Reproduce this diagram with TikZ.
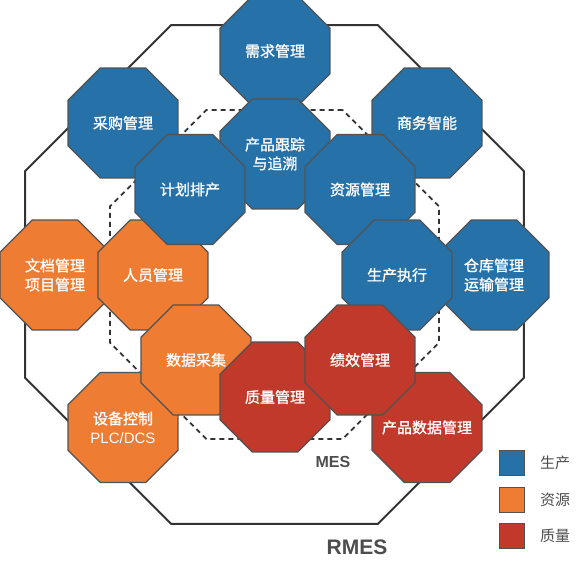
\documentclass[tikz,border=0pt]{standalone}
\usepackage{fontspec}
\setmainfont{Noto Sans CJK SC}
\newfontfamily\modulefont[FakeBold=1.2]{Noto Sans CJK SC}
\newfontfamily\mesfont{Liberation Sans}
\usetikzlibrary{shapes.geometric}

\definecolor{prodblue}{RGB}{37,113,168}
\definecolor{resorange}{RGB}{238,124,50}
\definecolor{qualred}{RGB}{192,57,43}
\definecolor{edgegray}{RGB}{82,82,82}
\definecolor{labelgray}{RGB}{77,77,77}

\begin{document}
\begin{tikzpicture}[x=1pt,y=-1pt]
  \tikzset{octagon/.style={regular polygon, regular polygon sides=8, inner sep=0pt},
    module/.style={octagon, minimum size=119pt, draw=edgegray, line width=1.2pt,
      text=white, align=center, font=\modulefont\fontsize{15}{19}\selectfont},
    production/.style={module, fill=prodblue},
    resource/.style={module, fill=resorange},
    quality/.style={module, fill=qualred},
    swatch/.style={draw=edgegray, line width=1pt, minimum size=25pt, inner sep=0pt},
    swatchtext/.style={text=labelgray, font=\fontsize{15}{18}\selectfont}}
  \useasboundingbox (0,0) rectangle (578,569);

  \node[octagon, minimum size=540pt, draw=black!80, line width=2pt] (rmes) at (274.5,274.5) {};
  \node[octagon, minimum size=356pt, draw=black!80, line width=1.8pt,
    dash pattern=on 5pt off 4pt] (mes) at (274.5,274.5) {};
  \node[text=labelgray, font=\mesfont\bfseries\fontsize{16}{18}\selectfont] (meslabel) at (333,462) {MES};
  \node[text=labelgray, font=\mesfont\bfseries\fontsize{21}{24}\selectfont] (rmeslabel) at (357,547) {RMES};

  \node[production] (demand) at (275,51) {需求管理};
  \node[production] (purchase) at (123,123) {采购管理};
  \node[production] (bi) at (427,123) {商务智能};
  \node[resource] (docs) at (55,275) {文档管理\\项目管理};
  \node[production] (warehouse) at (494,275) {仓库管理\\运输管理};
  \node[resource] (staff) at (153,275) {人员管理};
  \node[production] (tracking) at (275,154) {产品跟踪\\与追溯};
  \node[production] (planning) at (190,189.5) {计划排产};
  \node[production] (resources) at (360,189.5) {资源管理};
  \node[production] (execution) at (397,275) {生产执行};
  \node[resource] (equipment) at (123,427.5) {设备控制\\{\mesfont PLC/DCS}};
  \node[quality] (pdm) at (427,427.5) {\makebox[0pt]{产品数据管理}};
  \node[resource] (acquisition) at (196,360) {数据采集};
  \node[quality] (qm) at (275,397) {质量管理};
  \node[quality] (performance) at (360,360) {绩效管理};

  \node[swatch, fill=prodblue] (keyprod) at (511.5,462.5) {};
  \node[swatch, fill=resorange] (keyres) at (511.5,499.5) {};
  \node[swatch, fill=qualred] (keyqual) at (511.5,535.5) {};
  \node[swatchtext] (keyprodtext) at (555,462.5) {生产};
  \node[swatchtext] (keyrestext) at (555,499.5) {资源};
  \node[swatchtext] (keyqualtext) at (555,535.5) {质量};
\end{tikzpicture}
\end{document}
